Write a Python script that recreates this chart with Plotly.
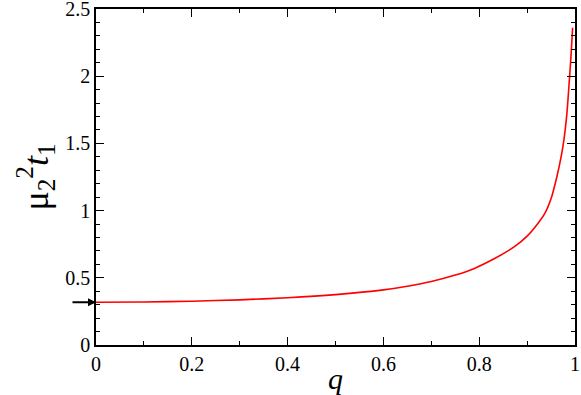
import plotly.graph_objects as go

# values
q = [0.0, 0.1, 0.2, 0.3, 0.4, 0.5, 0.6, 0.65, 0.7, 0.75, 0.79, 0.833,
     0.875, 0.9, 0.916, 0.937, 0.951, 0.962, 0.971, 0.977, 0.983, 0.988,
     0.992, 0.995]
mu_t = [0.318, 0.320, 0.326, 0.336, 0.352, 0.375, 0.41, 0.437, 0.472, 0.52,
        0.57, 0.645, 0.735, 0.81, 0.875, 0.98, 1.10, 1.25, 1.40, 1.53, 1.72,
        1.96, 2.17, 2.36]
arrow_y = 0.318

x_ticks = [0, 0.2, 0.4, 0.6, 0.8, 1]
y_ticks = [0, 0.5, 1, 1.5, 2, 2.5]

serif = "Liberation Serif, Times New Roman, serif"

fig = go.Figure()
fig.add_trace(go.Scatter(x=q, y=mu_t, mode="lines",
                         line=dict(color="red", width=1.6, shape="spline",
                                   smoothing=0.6),
                         showlegend=False, hoverinfo="skip"))

# arrow pointing at the q=0 value on the y axis
fig.add_annotation(x=0, y=arrow_y, xref="x", yref="y", ax=-25, ay=0,
                   axref="pixel", ayref="pixel", showarrow=True,
                   arrowhead=2, arrowsize=0.8, arrowwidth=2, arrowcolor="black",
                   text="")

axis_common = dict(showline=True, linecolor="black", linewidth=1.5,
                   mirror="ticks", ticks="inside", ticklen=8, tickwidth=1.2,
                   tickcolor="black", showgrid=False, zeroline=False,
                   automargin=False, tickformat="~g",
                   ticklabeloverflow="allow",
                   tickfont=dict(family=serif, size=20, color="black"))

fig.update_xaxes(range=[0, 1], tickvals=x_ticks,
                 minor=dict(dtick=0.1, ticks="inside", ticklen=4,
                            tickcolor="black", tickwidth=1.2),
                 title=dict(text="<i>q</i>", standoff=0,
                            font=dict(family=serif, size=30, color="black")),
                 **axis_common)
fig.update_yaxes(range=[0, 2.5], tickvals=y_ticks,
                 minor=dict(dtick=0.1, ticks="inside", ticklen=4,
                            tickcolor="black", tickwidth=1.2),
                 title=dict(text="μ<sub>2</sub><sup>2</sup><i>t</i><sub>1</sub>",
                            standoff=6,
                            font=dict(family=serif, size=36, color="black")),
                 **axis_common)

fig.update_layout(width=581, height=395,
                  margin=dict(l=96, r=6, t=9, b=50),
                  plot_bgcolor="white", paper_bgcolor="white")

# drop the default 8px body margin so the figure sits at the page corner
fig.write_html("out.html", config={"displayModeBar": False},
               post_script="document.body.style.margin = '0';")
